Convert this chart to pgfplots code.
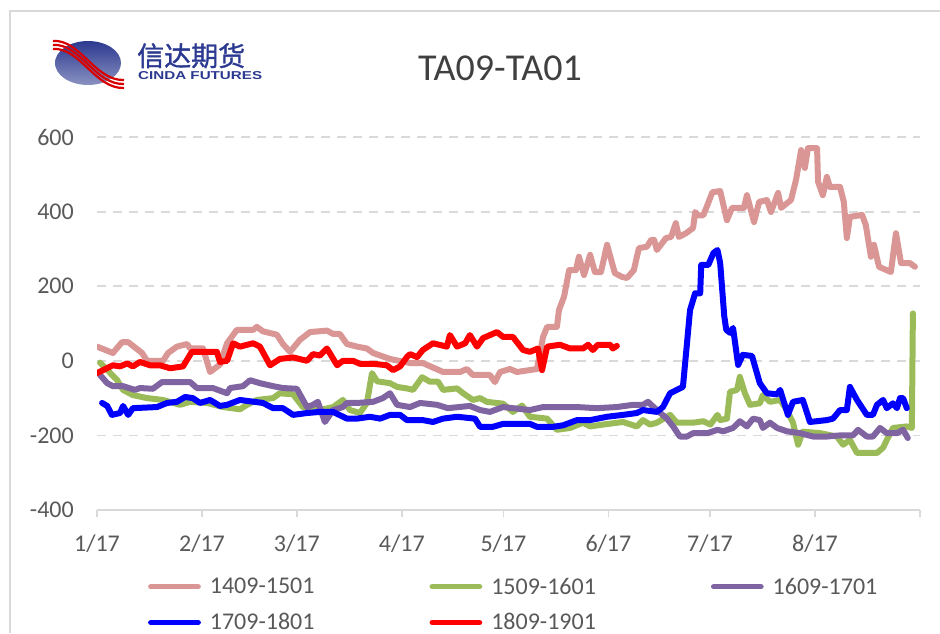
\documentclass[border=0pt]{standalone}
\usepackage{fontspec}
\setmainfont{Carlito}
\newfontfamily\cjk{Noto Sans CJK SC}[FakeBold=1.2]
\newfontfamily\logosans{Liberation Sans}
\usepackage{pgfplots}
\pgfplotsset{compat=1.18}
\definecolor{cpink}{HTML}{D99694}
\definecolor{cgreen}{HTML}{9BBB59}
\definecolor{cpurple}{HTML}{8064A2}
\definecolor{cblue}{HTML}{0000FF}
\definecolor{cred}{HTML}{FF0000}
\definecolor{ctext}{HTML}{595959}
\definecolor{cgrid}{HTML}{D9D9D9}
\definecolor{clogo}{HTML}{2B3990}
\begin{document}
\begin{tikzpicture}[x=1pt,y=1pt]
\path[use as bounding box] (0,0) rectangle (940,633);
\draw[cgrid, line width=1.5pt] (10,0) -- (10,622) -- (940,622);
% logo
\shade[left color=clogo, right color=clogo!55, shading angle=0] (88,570) ellipse [x radius=33, y radius=22];
\foreach \o in {-4,0,4}{
  \draw[cred!85!black, line width=2.2pt] (53,{588+\o}) .. controls (80,{590+\o}) and (95,{548+\o}) .. (124,{549+\o});
}
\node[anchor=base west, inner sep=0pt, text=clogo, font=\cjk\fontsize{27}{27}\selectfont] at (137,567) {信达期货};
\node[anchor=base west, inner sep=0pt, text=clogo] at (138,553) {\resizebox{124pt}{8pt}{\logosans\bfseries CINDA FUTURES}};
% title
\node[text=black!75, font=\fontsize{38}{38}\selectfont] at (500,565) {TA09-TA01};
\begin{axis}[
  at={(97pt,123pt)}, anchor=south west,
  scale only axis, width=823pt, height=373pt,
  xmin=0, xmax=243, ymin=-400, ymax=600,
  axis line style={draw=none},
  xtick pos=bottom, ytick pos=left,
  xtick={0,31,59,90,120,151,181,212,243},
  xticklabels={1/17,2/17,3/17,4/17,5/17,6/17,7/17,8/17,{}},
  ytick={-200,0,200,400,600},
  extra y ticks={-400},
  extra y tick style={grid style={solid, cgrid, line width=1.5pt}},
  xtick align=outside, major tick length=7pt,
  xtick style={cgrid, line width=1.5pt},
  ytick style={draw=none},
  ymajorgrids,
  grid style={cgrid, line width=1.8pt, dash pattern=on 9pt off 7pt},
  tick label style={text=ctext, font=\fontsize{24}{24}\selectfont},
  /pgf/number format/assume math mode=true,
  yticklabel style={anchor=east, inner sep=0pt, xshift=-23pt},
  xticklabel style={anchor=north, inner sep=0pt, yshift=-18pt},
  every axis plot/.append style={line join=round, line cap=round, no markers},
  legend columns=3,
  legend cell align=left,
  legend image code/.code={\draw[#1, line width=5.5pt, line cap=round] (2.75pt,0pt) -- (50pt,0pt);},
  legend style={draw=none, fill=none, inner sep=0pt, outer sep=0pt,
    at={(0.0621,-0.182)}, anchor=north west,
    font=\fontsize{24}{24}\selectfont, text=ctext,
    nodes={inner sep=0pt},
    column sep=9pt, row sep=18pt,
    /tikz/every even column/.append style={column sep=115pt}},
]
\addplot[cpink, line width=6pt] coordinates {
(0,38) (4.7,21) (7.4,50) (9.2,50) (13.3,21) (14.8,0) (19.5,0) (21.0,21) (23.6,38) (26.6,45) (27.5,33) (31.3,33) (33.4,-30) (36.3,-10) (38.4,47) (41.3,83) (46.1,83) (47.2,91) (49.0,79) (53.1,70) (54.9,45) (57.0,24) (59.9,56) (62.9,77) (67.9,81) (69.7,72) (71.7,72) (73.8,45) (76.8,38) (79.7,33) (81.5,21) (86.5,5) (92.4,-6) (96.2,-6) (102.2,-30) (107.2,-30) (109.2,-22) (111.0,-38) (116.0,-38) (117.5,-57) (119.0,-30) (121.9,-22) (124.0,-30) (129.9,-22) (131.7,64) (132.9,91) (135.8,91) (136.4,136) (137.9,172) (139.4,243) (141.4,243) (142.3,279) (143.8,230) (145.6,284) (147.0,238) (148.8,238) (150.6,311) (152.9,235) (155.0,225) (156.5,222) (158.5,243) (160.0,302) (162.4,306) (163.6,324) (164.5,324) (165.3,297) (168.0,329) (169.5,332) (170.9,369) (171.8,332) (173.9,342) (176.0,356) (176.6,399) (177.5,390) (179.0,390) (179.9,410) (181.7,452) (184.0,455) (186.0,377) (187.5,410) (191.0,410) (191.9,444) (194.0,372) (195.5,426) (197.8,431) (199.0,399) (201.1,450) (202.0,410) (204.9,431) (206.4,485) (207.9,565) (209.0,517) (209.9,570) (212.6,570) (212.9,480) (214.3,444) (215.5,493) (216.4,466) (219.4,466) (220.5,426) (221.4,329) (222.3,386) (225.9,391) (227.0,364) (228.5,279) (229.4,311) (230.9,252) (234.4,238) (235.9,342) (237.4,262) (240.0,262) (241.5,252)
};
\addlegendentry{1409-1501}
\addplot[cgreen, line width=6pt] coordinates {
(0.9,-5) (5.9,-51) (7.7,-78) (10.6,-92) (14.8,-100) (19.5,-105) (24.5,-118) (27.5,-110) (32.5,-113) (37.2,-124) (42.2,-130) (44.3,-118) (47.2,-105) (52.0,-100) (54.0,-87) (57.9,-90) (60.8,-124) (65.8,-132) (69.7,-124) (72.6,-105) (74.7,-132) (77.6,-140) (79.7,-113) (81.2,-33) (82.7,-55) (86.5,-60) (88.6,-70) (91.5,-74) (93.3,-78) (96.0,-44) (98.3,-56) (100.7,-56) (102.2,-78) (106.3,-74) (108.1,-87) (111.0,-105) (113.1,-100) (115.1,-110) (119.9,-115) (122.8,-137) (125.5,-120) (127.8,-150) (132.9,-155) (135.8,-185) (139.7,-180) (143.5,-166) (145.6,-176) (149.4,-171) (155.3,-164) (159.4,-176) (161.2,-159) (163.3,-171) (165.3,-166) (169.2,-145) (171.2,-166) (176.0,-166) (179.0,-162) (181.1,-171) (183.2,-145) (184.0,-159) (186.0,-155) (186.9,-83) (189.0,-78) (189.8,-43) (191.3,-87) (192.8,-118) (195.7,-114) (196.6,-92) (198.7,-110) (201.7,-105) (203.7,-132) (205.5,-166) (207.0,-225) (208.4,-190) (213.5,-194) (218.5,-203) (220.3,-225) (222.3,-212) (224.4,-247) (230.3,-247) (232.1,-233) (233.2,-212) (235.0,-180) (239.1,-176) (240.6,-180) (240.9,127)
};
\addlegendentry{1509-1601}
\addplot[cpurple, line width=6pt] coordinates {
(0.9,-38) (3.0,-60) (4.7,-68) (7.7,-68) (11.2,-78) (12.7,-73) (16.5,-75) (19.2,-57) (27.5,-57) (29.5,-73) (34.2,-73) (38.4,-87) (39.3,-73) (43.1,-68) (45.2,-52) (48.1,-60) (52.0,-68) (54.9,-73) (59.0,-75) (62.0,-124) (63.8,-118) (65.2,-110) (67.3,-164) (69.7,-132) (72.6,-124) (73.8,-113) (76.8,-113) (81.5,-110) (84.4,-100) (86.5,-87) (88.6,-118) (92.4,-124) (95.4,-113) (100.4,-118) (103.6,-127) (110.1,-121) (113.1,-132) (116.0,-137) (119.9,-124) (127.8,-132) (131.7,-124) (141.7,-124) (147.6,-127) (153.5,-124) (158.3,-118) (161.2,-118) (162.7,-110) (165.3,-132) (168.3,-155) (170.1,-176) (172.1,-203) (174.2,-203) (176.0,-194) (180.2,-194) (183.2,-185) (184.9,-189) (187.8,-180) (189.8,-162) (191.9,-176) (193.7,-155) (195.7,-159) (196.6,-180) (198.7,-166) (200.8,-180) (203.7,-189) (207.6,-194) (211.4,-203) (215.5,-203) (219.4,-200) (223.2,-200) (224.7,-185) (227.3,-203) (229.1,-203) (231.2,-180) (233.2,-194) (236.2,-194) (238.0,-185) (239.4,-207)
};
\addlegendentry{1609-1701}
\addplot[cblue, line width=6pt] coordinates {
(1.5,-113) (3.0,-121) (4.4,-145) (6.8,-140) (7.7,-121) (9.2,-145) (10.6,-127) (17.7,-124) (20.7,-113) (23.6,-110) (26.0,-97) (28.3,-100) (30.4,-113) (33.4,-105) (36.3,-121) (38.4,-118) (42.2,-105) (49.0,-113) (52.0,-127) (54.9,-127) (57.9,-145) (62.0,-140) (65.8,-137) (69.7,-137) (73.8,-155) (76.8,-155) (80.6,-150) (83.6,-155) (86.5,-145) (89.5,-145) (91.5,-159) (96.2,-159) (99.2,-164) (102.2,-155) (106.3,-150) (111.6,-155) (113.1,-177) (116.9,-177) (119.9,-169) (127.8,-169) (129.9,-177) (134.6,-177) (137.6,-173) (141.7,-159) (145.6,-159) (150.6,-150) (155.3,-145) (159.4,-140) (161.2,-132) (165.3,-137) (167.1,-124) (169.2,-87) (171.2,-78) (173.0,-70) (174.2,47) (175.1,136) (176.6,181) (178.1,181) (178.4,257) (180.5,257) (182.0,289) (183.2,297) (184.0,262) (185.2,120) (185.8,83) (186.9,75) (187.8,88) (189.3,-11) (190.7,16) (193.4,13) (195.7,-60) (197.8,-87) (200.8,-90) (201.7,-78) (204.0,-145) (205.5,-110) (208.4,-105) (210.5,-164) (215.5,-159) (217.3,-155) (219.4,-132) (221.4,-132) (222.3,-70) (224.4,-105) (227.3,-145) (229.1,-145) (230.3,-118) (232.1,-105) (233.2,-127) (235.0,-114) (236.2,-127) (237.1,-100) (238.0,-100) (239.1,-127)
};
\addlegendentry{1709-1801}
\addplot[cred, line width=6pt] coordinates {
(0,-33) (1.8,-25) (4.7,-12) (6.8,-15) (8.9,-7) (10.6,-15) (12.7,-3) (15.6,-12) (18.6,-12) (21.6,-20) (25.4,-15) (28.0,24) (35.4,24) (36.3,-3) (38.4,0) (40.2,47) (42.2,38) (46.1,47) (48.1,38) (51.1,-12) (54.0,5) (57.9,9) (62.0,0) (63.8,18) (65.8,14) (67.9,33) (70.9,-12) (72.6,0) (75.6,0) (77.6,-8) (81.5,-8) (85.6,-12) (87.4,-25) (89.5,-15) (91.5,10) (92.4,18) (94.5,10) (96.2,29) (99.2,47) (103.3,38) (104.2,69) (106.3,38) (108.7,47) (110.1,69) (112.2,38) (114.0,61) (118.1,77) (119.9,64) (122.8,64) (125.8,29) (127.8,24) (130.2,33) (131.4,-25) (132.9,38) (136.7,43) (139.7,33) (143.5,33) (145.0,43) (146.4,29) (147.9,43) (151.5,43) (152.3,33) (153.5,40)
};
\addlegendentry{1809-1901}
\end{axis}
\end{tikzpicture}
\end{document}
